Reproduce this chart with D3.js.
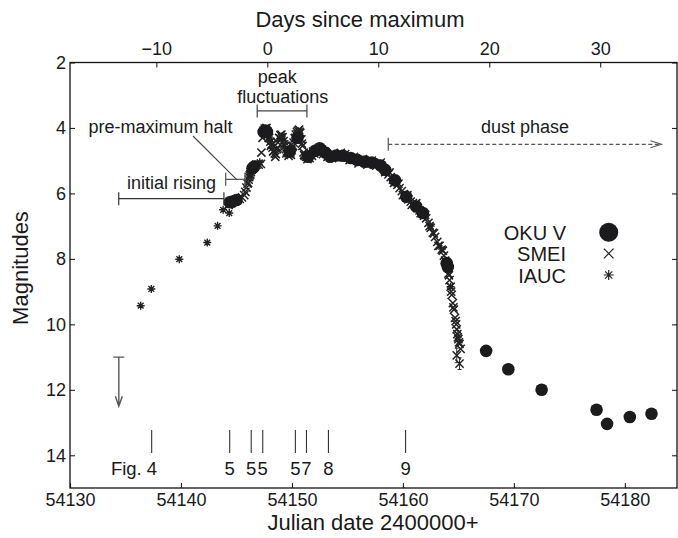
<!DOCTYPE html>
<html>
<head>
<meta charset="utf-8">
<script src="https://cdn.jsdelivr.net/npm/d3@7"></script>
<style>
  body { margin: 0; background: #fff; }
  svg text { font-family: "Liberation Sans", Arial, Helvetica, sans-serif; fill: #1a1a1a; }
</style>
</head>
<body>
<svg id="chart" width="678" height="538"></svg>
<script>
// OKU V photometry (large dots)
const okuJD = [54144.4, 54144.65, 54145.0, 54146.45, 54146.6, 54147.45, 54147.6, 54147.75,
  54149.8, 54150.5, 54151.45, 54152.1, 54152.5, 54153.0, 54153.45, 54154.0, 54154.6,
  54155.3, 54155.9, 54156.6, 54157.2, 54158.0, 54158.4, 54159.3, 54160.3, 54161.2,
  54161.8, 54163.95, 54164.05,
  54167.5, 54169.5, 54172.5, 54177.45, 54178.4, 54180.45, 54182.4];
const okuMag = [6.27, 6.25, 6.2, 5.23, 5.18, 4.12, 4.08, 4.12,
  4.72, 4.3, 4.88, 4.7, 4.62, 4.75, 4.88, 4.84, 4.85,
  4.92, 4.98, 5.03, 5.06, 5.15, 5.28, 5.6, 6.1, 6.4,
  6.6, 8.13, 8.25,
  10.81, 11.37, 12.0, 12.61, 13.04, 12.83, 12.73];

// SMEI photometry (crosses)
const smeiJD = [54144.3, 54144.5, 54144.7, 54144.9, 54145.1, 54145.3, 54145.5, 54145.7,
  54145.8, 54145.9, 54146.0, 54146.1, 54146.2, 54146.3, 54146.4, 54146.6, 54146.8,
  54147.0, 54147.2, 54147.25, 54147.35,
  54147.45, 54147.55, 54147.65, 54147.75, 54147.85, 54147.95, 54148.05, 54148.15,
  54148.25, 54148.35, 54148.45, 54148.55, 54148.65, 54148.75, 54148.85, 54148.95,
  54149.05, 54149.15, 54149.25, 54149.35, 54149.45, 54149.55, 54149.65, 54149.75,
  54149.85, 54149.95, 54150.05, 54150.15, 54150.25, 54150.35, 54150.45, 54150.55,
  54150.65, 54150.75, 54150.85, 54150.95, 54151.05, 54151.15, 54151.3,
  54151.5, 54151.7, 54151.9, 54152.1, 54152.3, 54152.5, 54152.7, 54152.9, 54153.1,
  54153.3, 54153.5, 54153.7, 54153.9, 54154.1, 54154.3, 54154.5, 54154.7, 54154.9,
  54155.1, 54155.3, 54155.5, 54155.7, 54155.9, 54156.1, 54156.3, 54156.5, 54156.7,
  54156.9, 54157.1, 54157.3, 54157.5, 54157.7, 54157.9, 54158.1, 54158.3, 54158.5,
  54158.7, 54158.9, 54159.1, 54159.3, 54159.5, 54159.7, 54159.9, 54160.1, 54160.3,
  54160.5, 54160.7, 54160.9, 54161.1, 54161.3, 54161.5, 54161.7, 54161.9, 54162.1,
  54162.3, 54162.5, 54162.7, 54162.9, 54163.1, 54163.3, 54163.5, 54163.7, 54163.9,
  54164.0, 54164.1, 54164.2, 54164.3, 54164.4, 54164.5, 54164.6, 54164.7, 54164.8,
  54164.85, 54164.9, 54165.0, 54165.1, 54165.2, 54164.85, 54165.1,
  // second pass of the same nights, scattered about the mean curve
  54146.05, 54146.15, 54146.25, 54146.35,
  54147.5, 54147.7, 54147.9, 54148.1, 54148.3, 54148.5, 54148.7, 54148.9, 54149.1,
  54149.3, 54149.5, 54149.7, 54149.9, 54150.1, 54150.3, 54150.5, 54150.7, 54150.9,
  54151.1, 54151.4, 54151.6, 54151.8, 54152.0, 54152.2, 54152.4, 54152.8, 54153.2,
  54153.6, 54154.0, 54154.4, 54154.8, 54155.2, 54155.6, 54156.0, 54156.4, 54156.8,
  54157.2, 54157.6, 54158.0, 54158.4, 54158.8, 54159.2, 54159.6, 54160.0, 54160.4,
  54160.8, 54161.2, 54161.6, 54162.0, 54162.4, 54162.8, 54163.2, 54163.6, 54163.8,
  54164.15, 54164.35, 54164.55, 54164.75, 54164.95, 54165.05];
const smeiMag = [6.35, 6.3, 6.25, 6.22, 6.2, 6.17, 6.12, 6.05,
  5.95, 5.82, 5.7, 5.58, 5.45, 5.35, 5.25, 5.18, 5.12,
  5.12, 5.1, 4.75, 4.3,
  4.08, 4.02, 4.05, 4.1, 4.2, 4.3, 4.42, 4.5,
  4.6, 4.7, 4.78, 4.8, 4.65, 4.45, 4.3, 4.22,
  4.2, 4.28, 4.4, 4.55, 4.65, 4.72, 4.76, 4.78,
  4.75, 4.68, 4.58, 4.45, 4.32, 4.2, 4.12, 4.08,
  4.05, 4.15, 4.35, 4.55, 4.75, 4.85, 4.88,
  4.85, 4.78, 4.72, 4.68, 4.65, 4.63, 4.66, 4.72, 4.78,
  4.82, 4.84, 4.83, 4.82, 4.82, 4.84, 4.85, 4.86, 4.88,
  4.9, 4.92, 4.94, 4.96, 4.99, 5.0, 5.02, 5.04, 5.05,
  5.06, 5.07, 5.06, 5.08, 5.1, 5.12, 5.18, 5.25, 5.33,
  5.42, 5.5, 5.58, 5.65, 5.74, 5.84, 5.93, 6.02, 6.1,
  6.18, 6.25, 6.3, 6.36, 6.44, 6.52, 6.6, 6.68, 6.76,
  6.9, 7.05, 7.2, 7.33, 7.48, 7.6, 7.72, 7.9, 8.1,
  8.2, 8.45, 8.65, 8.85, 9.1, 9.35, 9.55, 9.8, 10.0,
  10.15, 10.3, 10.45, 10.6, 10.75, 10.95, 11.2,
  5.68, 5.5, 5.42, 5.28,
  4.15, 4.0, 4.3, 4.55, 4.72, 4.88, 4.6, 4.32, 4.3,
  4.5, 4.78, 4.85, 4.82, 4.55, 4.3, 4.18, 4.12, 4.48,
  4.82, 4.95, 4.92, 4.85, 4.78, 4.72, 4.74, 4.8, 4.88,
  4.92, 4.9, 4.76, 4.8, 4.98, 4.88, 5.08, 4.95, 5.12,
  5.0, 5.15, 5.06, 5.35, 5.36, 5.68, 5.7, 6.05, 6.05,
  6.35, 6.3, 6.6, 6.65, 7.0, 7.22, 7.6, 7.75, 8.05,
  8.5, 9.0, 9.48, 9.9, 10.4, 10.55];
// error bars on the faint SMEI points
const smeiErrJD = [54164.9, 54165.0, 54164.85, 54165.1];
const smeiErrMag = [10.3, 10.45, 10.95, 11.2];
const smeiErr = [0.12, 0.15, 0.22, 0.18];

// IAUC reports (asterisks)
const iaucJD = [54136.37, 54137.33, 54139.85, 54142.37, 54143.3, 54143.8, 54144.35,
  54146.25, 54147.1, 54148.0, 54149.1, 54150.6, 54152.0, 54153.0, 54155.0, 54157.0,
  54159.0, 54161.0, 54162.5, 54163.5, 54164.0, 54164.3];
const iaucMag = [9.43, 8.92, 8.01, 7.5, 6.99, 6.5, 6.6,
  5.42, 5.05, 4.35, 4.25, 4.1, 4.7, 4.75, 4.9, 5.05,
  5.55, 6.35, 7.0, 7.7, 8.15, 8.85];

// upper limit before discovery
const limitJD = 54134.4, limitMag = [11.0, 12.5];

// spectra shown in other figures
const figJD = [54137.36, 54144.39, 54146.33, 54147.37, 54150.31, 54151.31, 54153.29, 54160.24];
const figLabels = ["Fig. 4", "5", "5", "5", "5", "7", "8", "9"];

const jdTicks = [54130, 54140, 54150, 54160, 54170, 54180];
const dayTicks = [-10, 0, 10, 20, 30];
const magTicks = [2, 4, 6, 8, 10, 12, 14];
const jdMax = 54147.78;

const mLeft = 70, mRight = 677, mTop = 62.5, mBottom = 488;
const svg = d3.select("#chart");

const x = d3.scaleLinear().domain([54130, 54184.7]).range([mLeft, mRight]);
const xDays = d3.scaleLinear().domain([54130 - jdMax, 54184.7 - jdMax]).range([mLeft, mRight]);
const y = d3.scaleLinear().domain([2, 15]).range([mTop, mBottom]);

// axes, ticks pointing inward
const axisStyle = g => {
  g.select(".domain").remove();
  g.selectAll(".tick line").attr("stroke", "#222").attr("stroke-width", 1.1);
  g.selectAll(".tick text").attr("font-size", 18).attr("fill", "#1a1a1a")
    .attr("font-family", "Liberation Sans, Arial, sans-serif");
};
svg.append("g").attr("transform", `translate(0,${mBottom})`)
  .call(d3.axisBottom(x).tickValues(jdTicks).tickFormat(d3.format("d")).tickSizeInner(-5).tickPadding(5))
  .call(axisStyle);
svg.append("g").attr("transform", `translate(0,${mTop})`)
  .call(d3.axisTop(xDays).tickValues(dayTicks).tickSizeInner(-5).tickPadding(8))
  .call(axisStyle);
svg.append("g").attr("transform", `translate(${mLeft},0)`)
  .call(d3.axisLeft(y).tickValues(magTicks).tickSizeInner(-5).tickPadding(4))
  .call(axisStyle);
svg.append("g").attr("transform", `translate(${mRight},0)`)
  .call(d3.axisRight(y).tickValues(magTicks).tickSizeInner(-5).tickFormat(""))
  .call(axisStyle);

svg.append("rect").attr("x", mLeft).attr("y", mTop)
  .attr("width", mRight - mLeft).attr("height", mBottom - mTop)
  .attr("fill", "none").attr("stroke", "#111").attr("stroke-width", 1.3);

// axis titles
svg.append("text").attr("x", 373).attr("y", 530).attr("text-anchor", "middle")
  .attr("font-size", 22).text("Julian date 2400000+");
svg.append("text").attr("x", 360).attr("y", 27).attr("text-anchor", "middle")
  .attr("font-size", 22).text("Days since maximum");
svg.append("text").attr("transform", "translate(28,268) rotate(-90)").attr("text-anchor", "middle")
  .attr("font-size", 22).text("Magnitudes");

// markers
const crossPath = s => `M${-s},${-s}L${s},${s}M${-s},${s}L${s},${-s}`;
const starPath = s => crossPath(s * 0.72) + `M0,${-s}L0,${s}M${-s},0L${s},0`;

const plot = svg.append("g");

plot.selectAll(".err").data(smeiErrJD).enter().append("path")
  .attr("d", (d, i) => {
    const px = x(d), y0 = y(smeiErrMag[i] - smeiErr[i]), y1 = y(smeiErrMag[i] + smeiErr[i]);
    return `M${px},${y0}L${px},${y1}M${px - 2},${y0}L${px + 2},${y0}M${px - 2},${y1}L${px + 2},${y1}`;
  })
  .attr("stroke", "#333").attr("stroke-width", 1);

plot.selectAll(".smei").data(smeiJD).enter().append("path")
  .attr("transform", (d, i) => `translate(${x(d)},${y(smeiMag[i])})`)
  .attr("d", crossPath(4.1)).attr("stroke", "#222").attr("stroke-width", 1.5).attr("fill", "none");

plot.selectAll(".iauc").data(iaucJD).enter().append("path")
  .attr("transform", (d, i) => `translate(${x(d)},${y(iaucMag[i])})`)
  .attr("d", starPath(4)).attr("stroke", "#222").attr("stroke-width", 1.4).attr("fill", "none");

plot.selectAll(".oku").data(okuJD).enter().append("circle")
  .attr("cx", d => x(d)).attr("cy", (d, i) => y(okuMag[i]))
  .attr("r", 6.3).attr("fill", "#1b1b1d");

// upper limit arrow
const lx = x(limitJD), ly0 = y(limitMag[0]), ly1 = y(limitMag[1]);
plot.append("path")
  .attr("d", `M${lx - 5.5},${ly0}L${lx + 5.5},${ly0}M${lx},${ly0}L${lx},${ly1}M${lx - 3.5},${ly1 - 10}L${lx},${ly1}L${lx + 3.5},${ly1 - 10}`)
  .attr("stroke", "#555").attr("stroke-width", 1.4).attr("fill", "none");

// spectrum epochs
plot.selectAll(".fig").data(figJD).enter().append("line")
  .attr("x1", d => x(d)).attr("x2", d => x(d)).attr("y1", 430).attr("y2", 453)
  .attr("stroke", "#333").attr("stroke-width", 1.1);
plot.selectAll(".figlab").data(figJD).enter().append("text")
  .attr("x", (d, i) => i === 0 ? x(d) + 5.5 : x(d))
  .attr("y", 475).attr("font-size", 18.5)
  .attr("text-anchor", (d, i) => i === 0 ? "end" : "middle")
  .text((d, i) => figLabels[i]);

// annotation brackets
const bracket = (j0, j1, mag, col) => {
  const a = x(j0), b = x(j1), c = y(mag);
  plot.append("path")
    .attr("d", `M${a},${c - 6.5}L${a},${c + 6.5}M${a},${c}L${b},${c}M${b},${c - 6.5}L${b},${c + 6.5}`)
    .attr("stroke", col).attr("stroke-width", 1.2).attr("fill", "none");
};
bracket(54134.39, 54143.87, 6.16, "#333");
bracket(54144.03, 54145.77, 5.57, "#555");
bracket(54146.87, 54151.35, 3.48, "#444");

plot.append("line").attr("x1", 193).attr("y1", 136).attr("x2", 236.5).attr("y2", 179.3)
  .attr("stroke", "#444").attr("stroke-width", 1.1);

// dust phase arrow
const dx0 = x(54158.68), dx1 = x(54183.3), dy = y(4.5);
plot.append("line").attr("x1", dx0).attr("x2", dx0).attr("y1", dy - 6.5).attr("y2", dy + 6.5)
  .attr("stroke", "#555").attr("stroke-width", 1.2);
plot.append("line").attr("x1", dx0).attr("x2", dx1 - 2).attr("y1", dy).attr("y2", dy)
  .attr("stroke", "#555").attr("stroke-width", 1.2).attr("stroke-dasharray", "4,2.5");
plot.append("path").attr("d", `M${dx1 - 11},${dy - 3.5}L${dx1},${dy}L${dx1 - 11},${dy + 3.5}`)
  .attr("stroke", "#555").attr("stroke-width", 1.1).attr("fill", "none");

const note = (tx, ty, s) => plot.append("text").attr("x", tx).attr("y", ty)
  .attr("text-anchor", "middle").attr("font-size", 18).text(s);
note(171.5, 189.3, "initial rising");
note(160.5, 133.3, "pre-maximum halt");
note(277.3, 82.7, "peak");
note(282.7, 102.7, "fluctuations");
note(525, 132.7, "dust phase");

// legend
const legendNames = ["OKU V", "SMEI", "IAUC"];
const legend = svg.append("g");
legend.selectAll("text").data(legendNames).enter().append("text")
  .attr("x", 566).attr("y", (d, i) => 239.5 + i * 21.5)
  .attr("text-anchor", "end").attr("font-size", 20).text(d => d);
legend.append("circle").attr("cx", 608.7).attr("cy", 232.3).attr("r", 9.5).attr("fill", "#1b1b1d");
legend.append("path").attr("transform", "translate(608.7,253.5)").attr("d", crossPath(4.8))
  .attr("stroke", "#222").attr("stroke-width", 1.2);
legend.append("path").attr("transform", "translate(608.7,275)").attr("d", starPath(5))
  .attr("stroke", "#222").attr("stroke-width", 1.2);
</script>
</body>
</html>
